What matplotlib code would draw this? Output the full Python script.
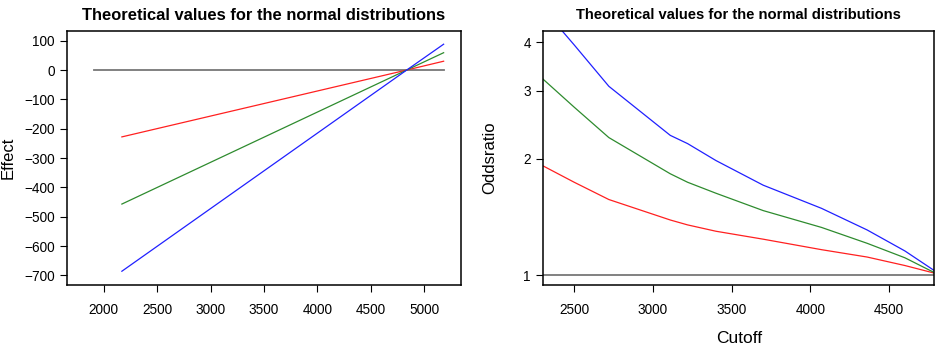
import matplotlib
matplotlib.use('Agg')
import matplotlib.pyplot as plt
import numpy as np

plt.rcParams['font.family'] = ['Liberation Sans', 'DejaVu Sans']

# left panel: effect vs cutoff (straight lines)
effect_x = [2170, 4835, 5180]
effect_red = [-228, 0, 30]
effect_green = [-457, 0, 59]
effect_blue = [-686, 0, 88]
zero_x = [1905, 5180]
zero_y = [0, 0]

# right panel: odds ratio vs cutoff
or_x = [2300, 2500, 2720, 3110, 3220, 3400, 3700, 4070, 4360, 4600, 4800]
or_red = [1.92, 1.74, 1.57, 1.39, 1.35, 1.30, 1.24, 1.165, 1.115, 1.06, 1.01]
or_green = [3.22, 2.72, 2.27, 1.83, 1.74, 1.63, 1.47, 1.33, 1.21, 1.11, 1.01]
or_blue = [4.9, 3.94, 3.08, 2.30, 2.19, 1.98, 1.71, 1.49, 1.31, 1.156, 1.02]

title = 'Theoretical values for the normal distributions'
red, green, blue, grey = '#ff2020', '#2e8b2e', '#2020ff', '#777777'

fig = plt.figure(figsize=(9.35, 3.48), dpi=100)
ax1 = fig.add_axes([0.0717, 0.181, 0.4214, 0.7299])
ax2 = fig.add_axes([0.5811, 0.181, 0.4179, 0.7299])

ax1.plot(zero_x, zero_y, color=grey, lw=1.3)
ax1.plot(effect_x, effect_red, color=red, lw=0.9)
ax1.plot(effect_x, effect_green, color=green, lw=0.9)
ax1.plot(effect_x, effect_blue, color=blue, lw=0.9)
ax1.set_xlim(1657, 5343)
ax1.set_ylim(-733, 133)
ax1.set_xticks(range(2000, 5001, 500))
ax1.set_yticks(range(-700, 101, 100))
ax1.set_ylabel('Effect', fontsize=12, labelpad=6)
ax1.set_title(title, fontsize=11.9, fontweight='bold', pad=8)

ax2.axhline(1, color=grey, lw=1.3)
ax2.plot(or_x, or_red, color=red, lw=0.9)
ax2.plot(or_x, or_green, color=green, lw=0.9)
ax2.plot(or_x, or_blue, color=blue, lw=0.9)
ax2.set_yscale('log')
ax2.set_xlim(2304, 4785)
ax2.set_ylim(0.944, 4.28)
ax2.set_xticks(range(2500, 4501, 500))
ax2.set_yticks([1, 2, 3, 4])
ax2.set_yticklabels(['1', '2', '3', '4'])
ax2.minorticks_off()
ax2.set_ylabel('Oddsratio', fontsize=12, labelpad=19)
ax2.set_xlabel('Cutoff', fontsize=12.5, labelpad=10)
ax2.set_title(title, fontsize=10.6, fontweight='bold', pad=9)

for ax in (ax1, ax2):
    for s in ax.spines.values():
        s.set_linewidth(1.1)
    ax.tick_params(direction='out', length=5, width=0.8, labelsize=9.8, pad=4)
    ax.tick_params(axis='x', pad=8)

fig.savefig('out.png', dpi=100)
